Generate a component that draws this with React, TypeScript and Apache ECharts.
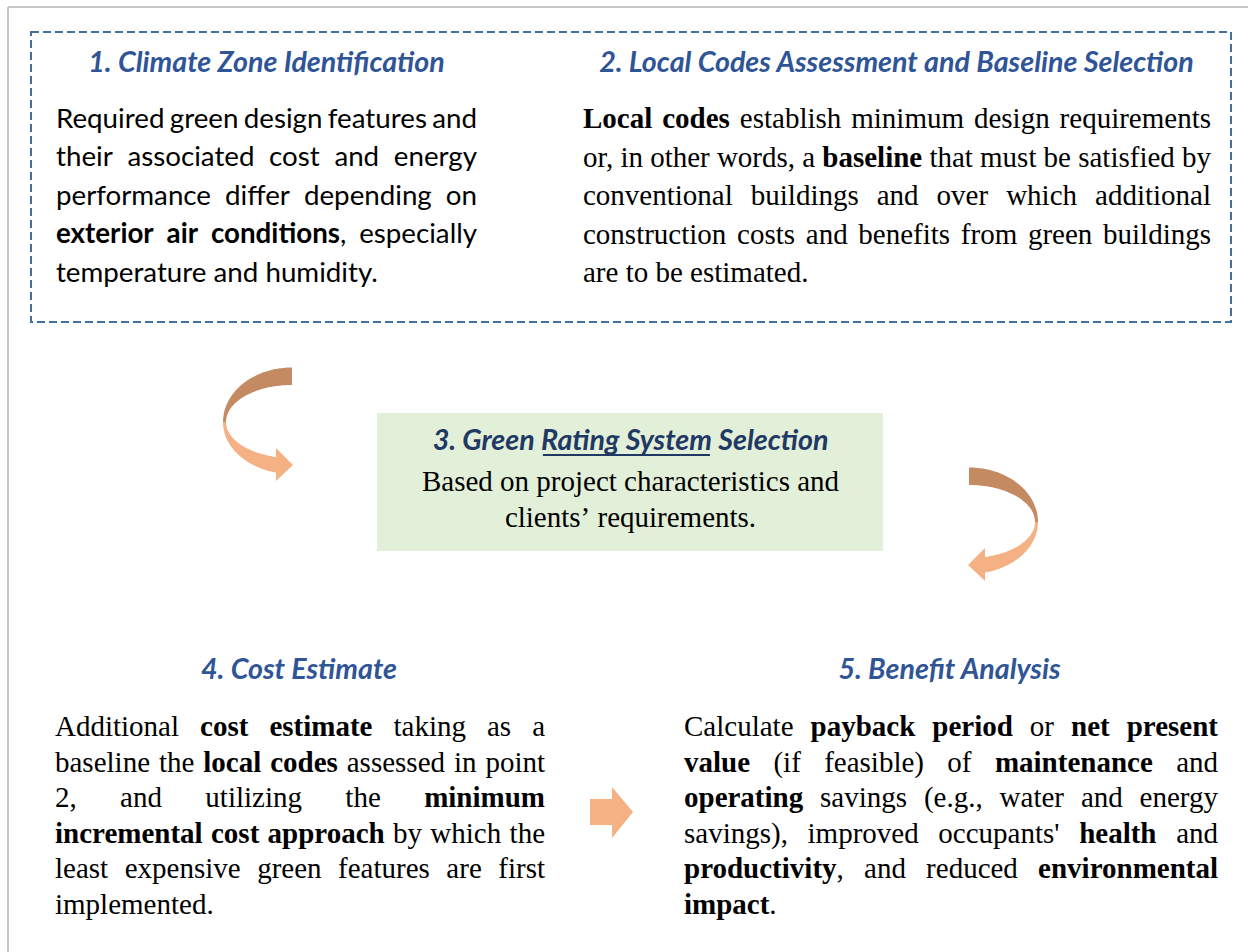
import React, { useEffect, useRef } from "react";
import * as echarts from "echarts";

type Seg = [string, boolean?];
const B = true;

// ---- texts (data) ----
const titleTexts = [
  "1. Climate Zone Identification",
  "2. Local Codes Assessment and Baseline Selection",
  "4. Cost Estimate",
  "5. Benefit Analysis",
];
const title3Parts = ["3. Green ", "Rating System", " Selection"];

const block1: Seg[][] = [
  [["Required green design features and"]],
  [["their associated cost and energy"]],
  [["performance differ depending on"]],
  [["exterior air conditions", B], [", especially"]],
  [["temperature and humidity."]],
];

const block2: Seg[][] = [
  [["Local codes", B], [" establish minimum design requirements"]],
  [["or, in other words, a "], ["baseline", B], [" that must be satisfied by"]],
  [["conventional buildings and over which additional"]],
  [["construction costs and benefits from green buildings"]],
  [["are to be estimated."]],
];

const block3: Seg[][] = [
  [["Based on project characteristics and"]],
  [["clients\u2019 requirements."]],
];

const block4: Seg[][] = [
  [["Additional "], ["cost estimate", B], [" taking as a"]],
  [["baseline the "], ["local codes", B], [" assessed in point"]],
  [["2, and utilizing the "], ["minimum", B]],
  [["incremental cost approach", B], [" by which the"]],
  [["least expensive green features are first"]],
  [["implemented."]],
];

const block5: Seg[][] = [
  [["Calculate "], ["payback period", B], [" or "], ["net present", B]],
  [["value", B], [" (if feasible) of "], ["maintenance", B], [" and"]],
  [["operating", B], [" savings (e.g., water and energy"]],
  [["savings), improved occupants' "], ["health", B], [" and"]],
  [["productivity", B], [", and reduced "], ["environmental", B]],
  [["impact", B], ["."]],
];

// ---- styles ----
const SERIF = '"Liberation Serif", "Times New Roman", serif';
const SANS = 'Lato, "Open Sans", sans-serif';
const K_SERIF = 0.3375;
const K_SANS = 0.387;
const FRAME = "#c6c6c6";
const DASH = "#41719c";
const TITLE = "#2f5597";
const TITLE3 = "#1f3864";
const GREEN = "#e2efd9";
const DARK = "#c48b63";
const LIGHT = "#f4b183";

let ctx: CanvasRenderingContext2D | null = null;
function measure(text: string, size: number, family: string, weight = "normal", style = "normal") {
  if (!ctx) ctx = document.createElement("canvas").getContext("2d");
  ctx!.font = `${style} ${weight} ${size}px ${family}`;
  return ctx!.measureText(text).width;
}

type Opt = {
  left: number; right: number; baseline: number; step: number; size: number;
  family: string; k: number; center?: number;
};

function layoutBlock(lines: Seg[][], o: Opt) {
  const els: any[] = [];
  lines.forEach((line, li) => {
    const words: { runs: { t: string; b: boolean; w: number }[]; w: number }[] = [];
    let cur: any = null;
    for (const [txt, bold] of line) {
      const parts = txt.split(" ");
      parts.forEach((p, pi) => {
        if (pi > 0) {
          if (cur && cur.runs.length) words.push(cur);
          cur = null;
        }
        if (p.length) {
          if (!cur) cur = { runs: [], w: 0 };
          cur.runs.push({ t: p, b: !!bold, w: measure(p, o.size, o.family, bold ? "bold" : "normal") });
        }
      });
    }
    if (cur && cur.runs.length) words.push(cur);
    words.forEach((w) => (w.w = w.runs.reduce((s, r) => s + r.w, 0)));
    const total = words.reduce((s, w) => s + w.w, 0);
    const space = measure(" ", o.size, o.family);
    const isLast = li === lines.length - 1;
    let gap = space;
    let x = o.left;
    if (o.center !== undefined) {
      x = o.center - (total + space * (words.length - 1)) / 2;
    } else if (!isLast && words.length > 1) {
      gap = (o.right - o.left - total) / (words.length - 1);
    }
    const y = o.baseline + li * o.step - o.k * o.size;
    words.forEach((w) => {
      w.runs.forEach((r) => {
        els.push({
          type: "text",
          x,
          y,
          style: {
            text: r.t,
            fontSize: o.size,
            fontFamily: o.family,
            fontWeight: r.b ? "bold" : "normal",
            fill: "#000",
            align: "left",
            verticalAlign: "middle",
          },
        });
        x += r.w;
      });
      x += gap;
    });
  });
  return els;
}

function arcPts(cx: number, cy: number, rx: number, ry: number, a0: number, a1: number, n = 48) {
  const pts: number[][] = [];
  for (let i = 0; i <= n; i++) {
    const a = a0 + ((a1 - a0) * i) / n;
    pts.push([cx + rx * Math.cos(a), cy + ry * Math.sin(a)]);
  }
  return pts;
}

function curvedArrow(cx: number, cy: number, mirror: boolean) {
  const m = (pts: number[][]) => pts.map(([x, y]) => [mirror ? 2 * cx - x : x, y]);
  const dark = [
    ...arcPts(cx, cy, 69, 54.5, -Math.PI / 2, -Math.PI),
    ...arcPts(cx, cy, 66, 37, -Math.PI, -Math.PI / 2),
  ];
  const back = 16;
  const to = Math.acos(-back / 69);
  const ti = Math.acos(-back / 66);
  const light = [
    ...arcPts(cx, cy, 69, 52, Math.PI, to),
    [cx - back, cy + 59],
    [cx + 1, cy + 43],
    [cx - back, cy + 26],
    ...arcPts(cx, cy, 66, 36, ti, Math.PI),
  ];
  return [
    { type: "polygon", shape: { points: m(light) }, style: { fill: LIGHT } },
    { type: "polygon", shape: { points: m(dark) }, style: { fill: DARK } },
  ];
}

function buildOption() {
  const els: any[] = [];
  // outer frame
  els.push({ type: "line", shape: { x1: 8, y1: 7, x2: 1248, y2: 7 }, style: { stroke: FRAME, lineWidth: 2 } });
  els.push({ type: "line", shape: { x1: 8, y1: 7, x2: 8, y2: 952 }, style: { stroke: FRAME, lineWidth: 2 } });
  // dashed box
  els.push({
    type: "rect",
    shape: { x: 31, y: 32, width: 1200, height: 290 },
    style: { fill: "none", stroke: DASH, lineWidth: 2, lineDash: [8, 4] },
  });
  // green box
  els.push({ type: "rect", shape: { x: 377, y: 413, width: 506, height: 138 }, style: { fill: GREEN } });

  // arrows
  els.push(...curvedArrow(292, 422, false));
  els.push(...curvedArrow(969, 522, true));
  els.push({
    type: "polygon",
    shape: { points: [[590, 799], [612, 799], [612, 787], [633, 812], [612, 838], [612, 825], [590, 825]] },
    style: { fill: LIGHT },
  });

  // titles
  const tTargets = [357, 597, 192, 223, 399];
  const tMeasured = [...titleTexts, title3Parts.join("")].map((t) => measure(t, 100, SANS, "bold", "italic"));
  const titleSize = (100 * tTargets.reduce((a, b) => a + b, 0)) / tMeasured.reduce((a, b) => a + b, 0);
  const tCenters = [266.5, 896.5, 299, 949.5];
  const tBase = [72, 72, 679, 679];
  titleTexts.forEach((t, i) => {
    els.push({
      type: "text",
      x: tCenters[i],
      y: tBase[i] - K_SANS * titleSize,
      style: {
        text: t, fontSize: titleSize, fontFamily: SANS, fontWeight: "bold", fontStyle: "italic",
        fill: TITLE, align: "center", verticalAlign: "middle",
      },
    });
  });
  // title 3 with underline
  const w3 = title3Parts.map((p) => measure(p, titleSize, SANS, "bold", "italic"));
  let x3 = 630.5 - w3.reduce((a, b) => a + b, 0) / 2;
  const base3 = 450;
  title3Parts.forEach((p, i) => {
    els.push({
      type: "text",
      x: x3,
      y: base3 - K_SANS * titleSize,
      style: {
        text: p, fontSize: titleSize, fontFamily: SANS, fontWeight: "bold", fontStyle: "italic",
        fill: TITLE3, align: "left", verticalAlign: "middle",
      },
    });
    if (i === 1) {
      els.push({
        type: "line",
        shape: { x1: x3 + 2, y1: base3 + 5, x2: x3 + w3[i] - 2, y2: base3 + 5 },
        style: { stroke: TITLE3, lineWidth: 2 },
      });
    }
    x3 += w3[i];
  });

  // body blocks
  const sansSize = (100 * 322) / measure("temperature and humidity.", 100, SANS);
  els.push(...layoutBlock(block1, { left: 56, right: 477, baseline: 128, step: 38.5, size: sansSize, family: SANS, k: K_SANS }));
  els.push(...layoutBlock(block2, { left: 583, right: 1211, baseline: 128, step: 38.5, size: 29, family: SERIF, k: K_SERIF }));
  els.push(...layoutBlock(block3, { left: 0, right: 0, baseline: 491, step: 36, size: 29, family: SERIF, k: K_SERIF, center: 630.5 }));
  els.push(...layoutBlock(block4, { left: 55, right: 545, baseline: 736, step: 35.5, size: 29, family: SERIF, k: K_SERIF }));
  els.push(...layoutBlock(block5, { left: 684, right: 1218, baseline: 736, step: 35.5, size: 29, family: SERIF, k: K_SERIF }));

  return {
    animation: false,
    backgroundColor: "#ffffff",
    graphic: { elements: els },
  };
}

export default function App() {
  const ref = useRef<HTMLDivElement>(null);
  useEffect(() => {
    document.body.style.margin = "0";
    const chart = echarts.init(ref.current!, null, { renderer: "svg", width: 1248, height: 952 });
    chart.setOption(buildOption() as any);
    return () => chart.dispose();
  }, []);
  return <div ref={ref} style={{ width: 1248, height: 952 }} />;
}
